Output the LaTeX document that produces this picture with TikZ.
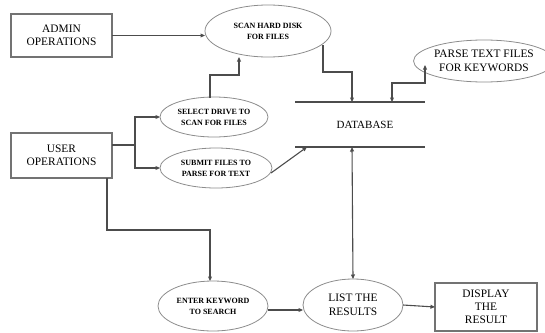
\documentclass[tikz,border=0pt]{standalone}
\usepackage{fontspec}
\setmainfont{Liberation Serif}
\usetikzlibrary{shapes.geometric,arrows.meta}
\begin{document}
\begin{tikzpicture}[x=1pt,y=-1pt,
  every node/.style={inner sep=0pt,outer sep=0pt},
  boxnode/.style={draw=black!55,line width=1.1pt,rectangle,align=center,font=\fontsize{11.4}{13}\selectfont},
  ellbig/.style={draw=black!45,line width=0.8pt,ellipse,align=center,font=\fontsize{11.4}{13.5}\selectfont},
  ellsmall/.style={draw=black!45,line width=0.8pt,ellipse,align=center,font=\fontsize{8}{11}\selectfont\bfseries},
  flow/.style={draw=black!70,line width=1.1pt},
  arr/.style={flow,-{Triangle[length=4.5pt,width=3.8pt]}},
  barr/.style={flow,{Triangle[length=4.5pt,width=3.8pt]}-{Triangle[length=4.5pt,width=3.8pt]}}]
\useasboundingbox (0,0) rectangle (545,332);
% nodes
\node[boxnode,minimum width=101pt,minimum height=43pt] (admin) at (61.5,35.5) {ADMIN\\OPERATIONS};
\node[boxnode,minimum width=101pt,minimum height=45pt] (user) at (61.5,155.5) {USER\\OPERATIONS};
\node[boxnode,minimum width=102pt,minimum height=48pt,font=\fontsize{11.4}{13}\selectfont] (display) at (486,307) {DISPLAY\\THE\\RESULT};
\node[ellsmall,minimum width=126pt,minimum height=52pt] (scan) at (268,31) {SCAN HARD DISK\\FOR FILES};
\node[ellsmall,minimum width=108pt,minimum height=40pt] (select) at (214,117) {SELECT DRIVE TO\\SCAN FOR FILES};
\node[ellsmall,minimum width=112pt,minimum height=40pt] (submit) at (216,168) {SUBMIT FILES TO\\PARSE FOR TEXT};
\node[ellsmall,minimum width=110pt,minimum height=50pt] (enter) at (213,306) {ENTER KEYWORD\\TO SEARCH};
\node[ellbig,minimum width=100pt,minimum height=52pt] (list) at (353,305) {LIST THE\\RESULTS};
\node[ellbig,minimum width=122pt,minimum height=42pt] (parse) at (484,61) {PARSE TEXT FILES\\FOR KEYWORDS};
% database
\coordinate (dbTL) at (295,102);
\coordinate (dbTR) at (425,102);
\coordinate (dbBL) at (295,147);
\coordinate (dbBR) at (425,147);
\node[font=\fontsize{11}{13}\selectfont] (db) at (365,125) {DATABASE};
\draw[flow,line width=1.3pt] (dbTL) -- (dbTR);
\draw[flow,line width=1.3pt] (dbBL) -- (dbBR);
% connector points
\coordinate (dbIn1) at (352,102);
\coordinate (dbIn2) at (392,102);
\coordinate (dbIn3) at (307,147);
\coordinate (dbIn4) at (352,147);
\coordinate (scanOut) at (323,45);
\coordinate (scanIn) at (239,57);
\coordinate (selOut) at (210,98);
\coordinate (subOut) at (271,173);
\coordinate (parseIn) at (425,65);
\coordinate (userR) at (112,145);
\coordinate (split) at (135,145);
\coordinate (userB) at (107,178);
\coordinate (enterIn) at (210,281);
% connectors
\draw[arr] (admin.east) -- (admin.east -| scan.west);
\draw[arr] (selOut) -- (210,75) -- (239,75) -- (scanIn);
\draw[arr] (scanOut) -- (323,72) -- (352,72) -- (dbIn1);
\draw[barr] (dbIn2) -- (392,83) -- (425,83) -- (parseIn);
\draw[flow] (userR) -- (split);
\draw[arr] (split) |- (select.west);
\draw[arr] (split) |- (submit.west);
\draw[arr] (subOut) -- (dbIn3);
\draw[arr] (userB) -- (107,230) -- (210,230) -- (enterIn);
\draw[barr] (list.north) -- (dbIn4);
\draw[arr] (enter.east |- 0,310) -- (list.west |- 0,310);
\draw[arr] (list.east) -- (display.west);
\end{tikzpicture}
\end{document}
